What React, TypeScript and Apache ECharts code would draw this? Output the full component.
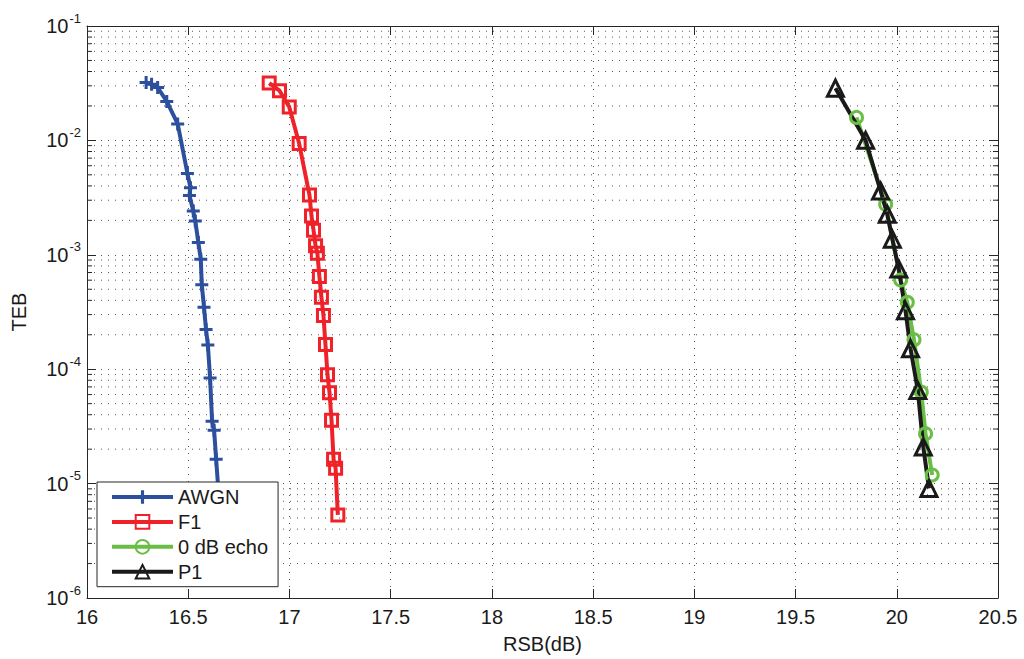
import React, { useEffect, useRef } from "react";
import * as echarts from "echarts";

const xTicks = ["16", "16.5", "17", "17.5", "18", "18.5", "19", "19.5", "20", "20.5"];

const xAWGN = [16.292, 16.319, 16.349, 16.394, 16.448, 16.496, 16.511, 16.506, 16.525, 16.535, 16.55, 16.562, 16.567, 16.578, 16.588, 16.597, 16.608, 16.618, 16.628, 16.638, 16.65];
const yAWGN = [0.0321, 0.0309, 0.029, 0.0219, 0.01393, 0.00514, 0.00386, 0.0033, 0.00241, 0.00197, 0.00128, 0.000915, 0.000547, 0.000348, 0.000222, 0.000163, 8.36e-5, 3.5e-5, 2.92e-5, 1.63e-5, 8.2e-6];

const xF1 = [16.9, 16.951, 16.999, 17.048, 17.099, 17.109, 17.119, 17.129, 17.138, 17.148, 17.158, 17.168, 17.178, 17.188, 17.198, 17.208, 17.218, 17.228, 17.239];
const yF1 = [0.0317, 0.0272, 0.0196, 0.00938, 0.00333, 0.00218, 0.00164, 0.0012, 0.00103, 0.000647, 0.000425, 0.000294, 0.000164, 8.93e-5, 6.22e-5, 3.57e-5, 1.63e-5, 1.36e-5, 5.32e-6];

const xEcho = [19.801, 19.945, 20.019, 20.052, 20.085, 20.121, 20.142, 20.175];
const yEcho = [0.01589, 0.00276, 0.000601, 0.000384, 0.000181, 6.31e-5, 2.73e-5, 1.19e-5];

const xP1 = [19.697, 19.846, 19.92, 19.953, 19.978, 20.01, 20.043, 20.068, 20.104, 20.131, 20.159];
const yP1 = [0.0286, 0.01002, 0.00361, 0.00226, 0.00137, 0.00075, 0.000324, 0.000151, 6.51e-5, 2.09e-5, 9.08e-6];

const decades = [-6, -5, -4, -3, -2];
const minorMultipliers = [2, 3, 4, 5, 6, 7, 8, 9];

const FONT = "'Liberation Sans', Arial, Helvetica, sans-serif";
const PLUS = "path://M5,0H8V5H13V8H8V13H5V8H0V5H5Z";

function zip(xs: number[], ys: number[]) {
  return xs.map((x, i) => [x, ys[i]]);
}

export default function App() {
  const ref = useRef<HTMLDivElement>(null);
  useEffect(() => {
    if (!ref.current) return;
    const chart = echarts.init(ref.current, undefined, { renderer: "svg" });
    const minorVals: number[] = [];
    decades.forEach((d) => minorMultipliers.forEach((m) => minorVals.push(m * Math.pow(10, d))));
    const gridStyle = { color: "#555", width: 1, type: [1, 6] as any };
    const mk = (name: string, xs: number[], ys: number[], color: string, symbol: string, size: number, filled: boolean) => ({
      name,
      type: "line",
      data: zip(xs, ys),
      z: 3,
      symbol,
      symbolSize: size,
      showSymbol: true,
      lineStyle: { color, width: 4 },
      itemStyle: filled
        ? { color, borderWidth: 0 }
        : { color: "rgba(255,255,255,0)", borderColor: color, borderWidth: 3 },
    });
    const option: any = {
      animation: false,
      textStyle: { fontFamily: FONT },
      grid: { left: 87, right: 26, top: 26, bottom: 59, containLabel: false },
      legend: {
        orient: "vertical",
        left: 97,
        top: 482,
        data: ["AWGN", "F1", "0 dB echo", "P1"],
        backgroundColor: "#fff",
        borderColor: "#262626",
        borderWidth: 1,
        borderRadius: 0,
        padding: [5, 10, 5, 13],
        itemWidth: 61,
        itemHeight: 17,
        itemGap: 4.9,
        lineStyle: { width: 4 },
        textStyle: { fontSize: 20, color: "#1a1a1a", fontFamily: FONT },
        z: 10,
      },
      xAxis: [
        {
          type: "value",
          min: 16,
          max: 20.5,
          interval: 0.5,
          name: "RSB(dB)",
          nameLocation: "middle",
          nameGap: 36,
          nameTextStyle: { fontSize: 20, color: "#1a1a1a", fontFamily: FONT },
          axisLine: { lineStyle: { color: "#262626", width: 1 } },
          axisTick: { inside: true, length: 9, lineStyle: { color: "#262626" } },
          axisLabel: {
            fontSize: 20,
            color: "#1a1a1a",
            margin: 9,
            fontFamily: FONT,
            formatter: (v: number) => {
              const s = xTicks.find((t) => Math.abs(parseFloat(t) - v) < 1e-6);
              return s ?? "";
            },
          },
          splitLine: { show: true, lineStyle: gridStyle },
        },
        {
          type: "value",
          position: "top",
          min: 16,
          max: 20.5,
          interval: 0.5,
          axisLine: { lineStyle: { color: "#262626", width: 1 } },
          axisTick: { inside: true, length: 9, lineStyle: { color: "#262626" } },
          axisLabel: { show: false },
          splitLine: { show: false },
        },
      ],
      yAxis: [
        {
          type: "log",
          logBase: 10,
          min: 1e-6,
          max: 1e-1,
          splitNumber: 5,
          name: "TEB",
          nameLocation: "middle",
          nameGap: 58,
          nameTextStyle: { fontSize: 20, color: "#1a1a1a", fontFamily: FONT },
          axisLine: { show: true, lineStyle: { color: "#262626", width: 1 } },
          axisTick: { show: true, inside: true, length: 9, lineStyle: { color: "#262626" } },
          axisLabel: {
            margin: 6,
            fontFamily: FONT,
            formatter: (v: number) => `{b|10}{s|${Math.round(Math.log10(v))}}`,
            rich: {
              b: { fontSize: 20, color: "#1a1a1a", fontFamily: FONT },
              s: { fontSize: 13, color: "#1a1a1a", fontFamily: FONT, padding: [0, 0, 16, 1] },
            },
          },
          splitLine: { show: true, lineStyle: gridStyle },
        },
        {
          type: "log",
          logBase: 10,
          min: 1e-6,
          max: 1e-1,
          splitNumber: 5,
          position: "right",
          axisLine: { show: true, lineStyle: { color: "#262626", width: 1 } },
          axisTick: { show: true, inside: true, length: 9, lineStyle: { color: "#262626" } },
          axisLabel: { show: false },
          splitLine: { show: false },
        },
      ],
      series: [
        {
          name: "_minor",
          type: "custom",
          z: 1,
          silent: true,
          data: minorVals.map((v) => [16, v]),
          renderItem: (_params: any, api: any) => {
            const v = api.value(1);
            const a = api.coord([16, v]);
            const b = api.coord([20.5, v]);
            const tick = 5;
            return {
              type: "group",
              children: [
                {
                  type: "line",
                  shape: { x1: a[0], y1: a[1], x2: b[0], y2: b[1] },
                  style: { stroke: "#555", lineWidth: 1, lineDash: [1, 6] },
                },
                {
                  type: "line",
                  shape: { x1: a[0], y1: a[1], x2: a[0] + tick, y2: a[1] },
                  style: { stroke: "#262626", lineWidth: 1 },
                },
                {
                  type: "line",
                  shape: { x1: b[0] - tick, y1: b[1], x2: b[0], y2: b[1] },
                  style: { stroke: "#262626", lineWidth: 1 },
                },
              ],
            };
          },
        },
        mk("AWGN", xAWGN, yAWGN, "#2C4F9E", PLUS, 13, true),
        mk("F1", xF1, yF1, "#EE2228", "rect", 12, false),
        mk("0 dB echo", xEcho, yEcho, "#6ABD45", "circle", 12, false),
        mk("P1", xP1, yP1, "#1A1A1A", "triangle", 16, false),
      ],
    };
    chart.setOption(option);
    return () => chart.dispose();
  }, []);
  return <div ref={ref} style={{ position: "absolute", left: 0, top: 0, width: 1024, height: 659 }} />;
}
